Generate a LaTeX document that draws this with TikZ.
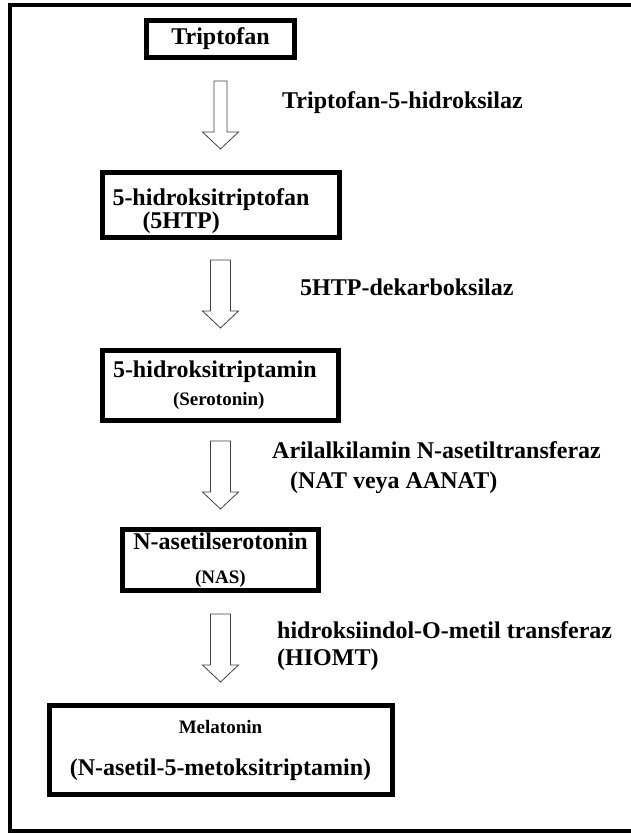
\documentclass[tikz,border=0pt]{standalone}
\usepackage{fontspec}
\setmainfont{Liberation Serif}
\usetikzlibrary{positioning,calc}
\tikzset{
    box/.style={
      rectangle,
           draw=black, line width=5pt,
           inner xsep=10.5pt, inner ysep=0pt,
           font=\fontsize{24}{26}\selectfont\bfseries,
           align=center,
           },
}
\tikzset{
    enzyme/.style={
      inner sep=0pt,
           font=\fontsize{24}{26}\selectfont\bfseries,
           align=left,
           },
}
\tikzset{
    flow/.style={
      draw=black!75, line width=0.8pt,
           to path={
             let \p1=(\tikztostart.south), \p2=(\tikztotarget.north),
                 \n1={(\y1+\y2)/2} in
             (\x1-#1,\n1+34pt) -- (\x1-#1,\n1-17pt) -- (\x1-18pt,\n1-17pt)
             -- (\x1,\n1-34pt) -- (\x1+18pt,\n1-17pt) -- (\x1+#1,\n1-17pt)
             -- (\x1+#1,\n1+34pt) -- cycle
           },
           },
    flow/.default=10pt,
}
\newcommand{\smalltext}{\fontsize{19}{22}\selectfont}

\begin{document}
\begin{tikzpicture}[x=1pt,y=-1pt]

\useasboundingbox (0,0) rectangle (630,834);
\draw[line width=4pt] (632,5) -- (10,5) -- (10,831) -- (632,831);

\node[box,minimum width=148pt,minimum height=37pt](tr) at (220.5,39) {Triptofan};

\node[box,minimum width=237pt,minimum height=65pt,text width=216pt,align=left,below = 110pt of tr](ht)
  {\rule{0pt}{29pt}5-hidroksitriptofan\\[-3pt]\hspace*{30pt}(5HTP)};
\node[box,minimum width=236pt,minimum height=70pt,text width=215pt,align=left,below = 108pt of ht](st)
  {5-hidroksitriptamin\\[2pt]{\smalltext\hspace*{60pt}(Serotonin)}};
\node[box,minimum width=190pt,minimum height=61pt,below = 104pt of st](na)
  {N-asetilserotonin\\[8pt]{\smalltext (NAS)}};
\node[box,minimum width=343pt,minimum height=89pt,below = 110pt of na](mt)
  {{\smalltext Melatonin}\\[16pt](N-asetil-5-metoksitriptamin)};


\path (tr) edge[flow=6.5pt](ht);
\path (ht) edge[flow](st);
\path (st) edge[flow](na);
\path (na) edge[flow](mt);


\node[enzyme,below right = 43pt and 61.5pt of tr.south,anchor=west](th){Triptofan-5-hidroksilaz};
\node[enzyme,below right = 47pt and 79.5pt of ht.south,anchor=west](dk){5HTP-dekarboksilaz};
\node[enzyme,below right = 45pt and 51.5pt of st.south,anchor=west](at)
  {Arilalkilamin N-asetiltransferaz\\[4pt]\hspace*{18pt}(NAT veya AANAT)};
\node[enzyme,below right = 53.5pt and 56.5pt of na.south,anchor=west](hi)
  {hidroksiindol-O-metil transferaz\\[1pt](HIOMT)};

\end{tikzpicture}
\end{document}
